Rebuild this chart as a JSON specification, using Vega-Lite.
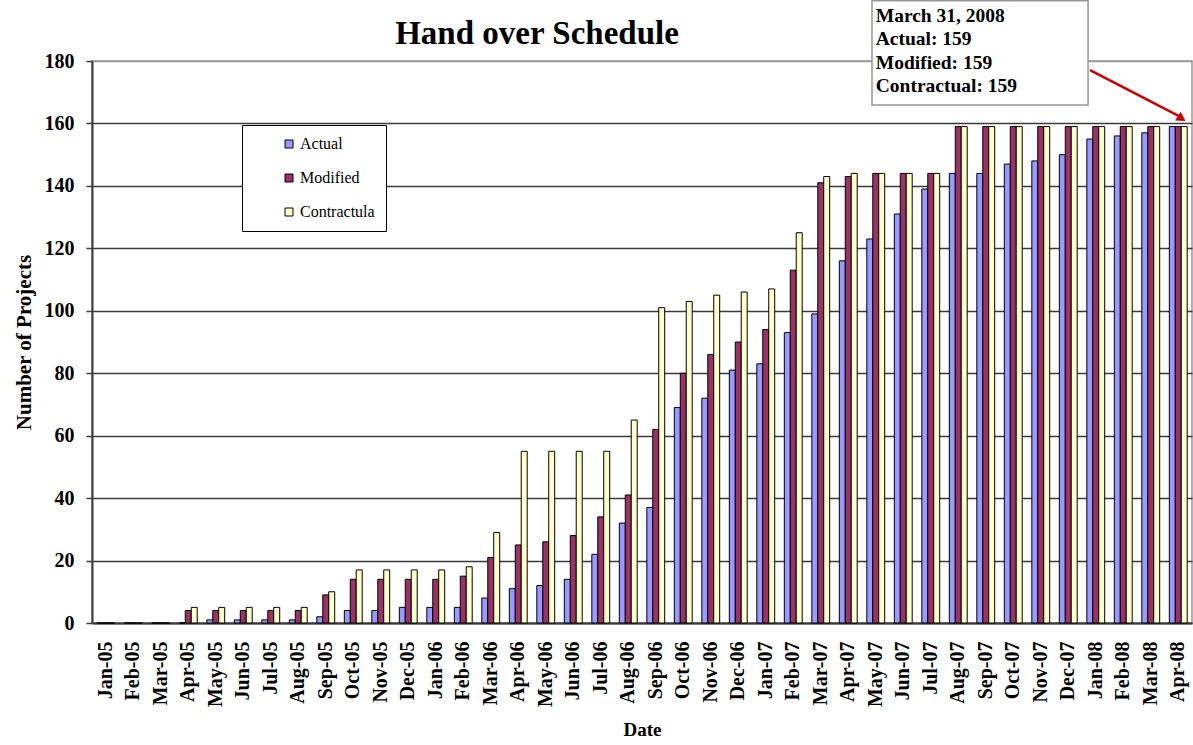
{
  "$schema": "https://vega.github.io/schema/vega-lite/v6.json",
  "width": 1100,
  "height": 562,
  "autosize": {"type": "none"},
  "padding": {"left": 92, "top": 61, "right": 1, "bottom": 122},
  "background": "white",
  "title": {"text": "Hand over Schedule", "font": "Liberation Serif", "fontSize": 33, "fontWeight": "bold", "color": "black", "anchor": "middle", "dx": -105, "dy": 61, "offset": 10},
  "config": {
    "view": {"stroke": "#999999", "strokeWidth": 1.5},
    "axis": {"labelFont": "Liberation Serif", "titleFont": "Liberation Serif", "labelColor": "black", "titleColor": "black", "labelFontWeight": "bold", "titleFontWeight": "bold", "domainColor": "#3a3a3a", "domainWidth": 2},
    "legend": {"labelFont": "Liberation Serif", "titleFont": "Liberation Serif"}
  },
  "layer": [
    {
      "data": {"values": [
        {"month": "Jan-05", "series": "Actual", "value": 0}, {"month": "Jan-05", "series": "Modified", "value": 0}, {"month": "Jan-05", "series": "Contractula", "value": 0},
        {"month": "Feb-05", "series": "Actual", "value": 0}, {"month": "Feb-05", "series": "Modified", "value": 0}, {"month": "Feb-05", "series": "Contractula", "value": 0},
        {"month": "Mar-05", "series": "Actual", "value": 0}, {"month": "Mar-05", "series": "Modified", "value": 0}, {"month": "Mar-05", "series": "Contractula", "value": 0},
        {"month": "Apr-05", "series": "Actual", "value": 0}, {"month": "Apr-05", "series": "Modified", "value": 4}, {"month": "Apr-05", "series": "Contractula", "value": 5},
        {"month": "May-05", "series": "Actual", "value": 1}, {"month": "May-05", "series": "Modified", "value": 4}, {"month": "May-05", "series": "Contractula", "value": 5},
        {"month": "Jun-05", "series": "Actual", "value": 1}, {"month": "Jun-05", "series": "Modified", "value": 4}, {"month": "Jun-05", "series": "Contractula", "value": 5},
        {"month": "Jul-05", "series": "Actual", "value": 1}, {"month": "Jul-05", "series": "Modified", "value": 4}, {"month": "Jul-05", "series": "Contractula", "value": 5},
        {"month": "Aug-05", "series": "Actual", "value": 1}, {"month": "Aug-05", "series": "Modified", "value": 4}, {"month": "Aug-05", "series": "Contractula", "value": 5},
        {"month": "Sep-05", "series": "Actual", "value": 2}, {"month": "Sep-05", "series": "Modified", "value": 9}, {"month": "Sep-05", "series": "Contractula", "value": 10},
        {"month": "Oct-05", "series": "Actual", "value": 4}, {"month": "Oct-05", "series": "Modified", "value": 14}, {"month": "Oct-05", "series": "Contractula", "value": 17},
        {"month": "Nov-05", "series": "Actual", "value": 4}, {"month": "Nov-05", "series": "Modified", "value": 14}, {"month": "Nov-05", "series": "Contractula", "value": 17},
        {"month": "Dec-05", "series": "Actual", "value": 5}, {"month": "Dec-05", "series": "Modified", "value": 14}, {"month": "Dec-05", "series": "Contractula", "value": 17},
        {"month": "Jan-06", "series": "Actual", "value": 5}, {"month": "Jan-06", "series": "Modified", "value": 14}, {"month": "Jan-06", "series": "Contractula", "value": 17},
        {"month": "Feb-06", "series": "Actual", "value": 5}, {"month": "Feb-06", "series": "Modified", "value": 15}, {"month": "Feb-06", "series": "Contractula", "value": 18},
        {"month": "Mar-06", "series": "Actual", "value": 8}, {"month": "Mar-06", "series": "Modified", "value": 21}, {"month": "Mar-06", "series": "Contractula", "value": 29},
        {"month": "Apr-06", "series": "Actual", "value": 11}, {"month": "Apr-06", "series": "Modified", "value": 25}, {"month": "Apr-06", "series": "Contractula", "value": 55},
        {"month": "May-06", "series": "Actual", "value": 12}, {"month": "May-06", "series": "Modified", "value": 26}, {"month": "May-06", "series": "Contractula", "value": 55},
        {"month": "Jun-06", "series": "Actual", "value": 14}, {"month": "Jun-06", "series": "Modified", "value": 28}, {"month": "Jun-06", "series": "Contractula", "value": 55},
        {"month": "Jul-06", "series": "Actual", "value": 22}, {"month": "Jul-06", "series": "Modified", "value": 34}, {"month": "Jul-06", "series": "Contractula", "value": 55},
        {"month": "Aug-06", "series": "Actual", "value": 32}, {"month": "Aug-06", "series": "Modified", "value": 41}, {"month": "Aug-06", "series": "Contractula", "value": 65},
        {"month": "Sep-06", "series": "Actual", "value": 37}, {"month": "Sep-06", "series": "Modified", "value": 62}, {"month": "Sep-06", "series": "Contractula", "value": 101},
        {"month": "Oct-06", "series": "Actual", "value": 69}, {"month": "Oct-06", "series": "Modified", "value": 80}, {"month": "Oct-06", "series": "Contractula", "value": 103},
        {"month": "Nov-06", "series": "Actual", "value": 72}, {"month": "Nov-06", "series": "Modified", "value": 86}, {"month": "Nov-06", "series": "Contractula", "value": 105},
        {"month": "Dec-06", "series": "Actual", "value": 81}, {"month": "Dec-06", "series": "Modified", "value": 90}, {"month": "Dec-06", "series": "Contractula", "value": 106},
        {"month": "Jan-07", "series": "Actual", "value": 83}, {"month": "Jan-07", "series": "Modified", "value": 94}, {"month": "Jan-07", "series": "Contractula", "value": 107},
        {"month": "Feb-07", "series": "Actual", "value": 93}, {"month": "Feb-07", "series": "Modified", "value": 113}, {"month": "Feb-07", "series": "Contractula", "value": 125},
        {"month": "Mar-07", "series": "Actual", "value": 99}, {"month": "Mar-07", "series": "Modified", "value": 141}, {"month": "Mar-07", "series": "Contractula", "value": 143},
        {"month": "Apr-07", "series": "Actual", "value": 116}, {"month": "Apr-07", "series": "Modified", "value": 143}, {"month": "Apr-07", "series": "Contractula", "value": 144},
        {"month": "May-07", "series": "Actual", "value": 123}, {"month": "May-07", "series": "Modified", "value": 144}, {"month": "May-07", "series": "Contractula", "value": 144},
        {"month": "Jun-07", "series": "Actual", "value": 131}, {"month": "Jun-07", "series": "Modified", "value": 144}, {"month": "Jun-07", "series": "Contractula", "value": 144},
        {"month": "Jul-07", "series": "Actual", "value": 139}, {"month": "Jul-07", "series": "Modified", "value": 144}, {"month": "Jul-07", "series": "Contractula", "value": 144},
        {"month": "Aug-07", "series": "Actual", "value": 144}, {"month": "Aug-07", "series": "Modified", "value": 159}, {"month": "Aug-07", "series": "Contractula", "value": 159},
        {"month": "Sep-07", "series": "Actual", "value": 144}, {"month": "Sep-07", "series": "Modified", "value": 159}, {"month": "Sep-07", "series": "Contractula", "value": 159},
        {"month": "Oct-07", "series": "Actual", "value": 147}, {"month": "Oct-07", "series": "Modified", "value": 159}, {"month": "Oct-07", "series": "Contractula", "value": 159},
        {"month": "Nov-07", "series": "Actual", "value": 148}, {"month": "Nov-07", "series": "Modified", "value": 159}, {"month": "Nov-07", "series": "Contractula", "value": 159},
        {"month": "Dec-07", "series": "Actual", "value": 150}, {"month": "Dec-07", "series": "Modified", "value": 159}, {"month": "Dec-07", "series": "Contractula", "value": 159},
        {"month": "Jan-08", "series": "Actual", "value": 155}, {"month": "Jan-08", "series": "Modified", "value": 159}, {"month": "Jan-08", "series": "Contractula", "value": 159},
        {"month": "Feb-08", "series": "Actual", "value": 156}, {"month": "Feb-08", "series": "Modified", "value": 159}, {"month": "Feb-08", "series": "Contractula", "value": 159},
        {"month": "Mar-08", "series": "Actual", "value": 157}, {"month": "Mar-08", "series": "Modified", "value": 159}, {"month": "Mar-08", "series": "Contractula", "value": 159},
        {"month": "Apr-08", "series": "Actual", "value": 159}, {"month": "Apr-08", "series": "Modified", "value": 159}, {"month": "Apr-08", "series": "Contractula", "value": 159}
      ]},
      "mark": {"type": "bar", "stroke": "black", "strokeWidth": 1},
      "encoding": {
        "x": {
          "field": "month", "type": "nominal",
          "scale": {"domain": ["Jan-05","Feb-05","Mar-05","Apr-05","May-05","Jun-05","Jul-05","Aug-05","Sep-05","Oct-05","Nov-05","Dec-05","Jan-06","Feb-06","Mar-06","Apr-06","May-06","Jun-06","Jul-06","Aug-06","Sep-06","Oct-06","Nov-06","Dec-06","Jan-07","Feb-07","Mar-07","Apr-07","May-07","Jun-07","Jul-07","Aug-07","Sep-07","Oct-07","Nov-07","Dec-07","Jan-08","Feb-08","Mar-08","Apr-08"], "paddingInner": 0.35, "paddingOuter": 0.175},
          "axis": {"title": "Date", "titleFontSize": 19, "titlePadding": 14, "labelAngle": -90, "labelAlign": "right", "labelBaseline": "middle", "labelFontSize": 20, "labelPadding": 18, "ticks": false}
        },
        "xOffset": {"field": "series", "type": "nominal", "sort": ["Actual", "Modified", "Contractula"]},
        "y": {
          "field": "value", "type": "quantitative",
          "scale": {"domain": [0, 180], "nice": false},
          "axis": {"title": "Number of Projects", "titleFontSize": 21, "titlePadding": 10, "values": [0,20,40,60,80,100,120,140,160,180], "labelFontSize": 20, "labelPadding": 12, "tickSize": 6, "tickWidth": 1.5, "tickColor": "#3a3a3a", "grid": true, "gridWidth": 1.5, "gridColor": {"condition": {"test": "datum.value == 180", "value": "#999999"}, "value": "#3a3a3a"}}
        },
        "color": {
          "field": "series", "type": "nominal",
          "scale": {"domain": ["Actual", "Modified", "Contractula"], "range": ["#9999FF", "#993366", "#FFFFCC"]},
          "legend": {"title": null, "orient": "none", "legendX": 150, "legendY": 64, "direction": "vertical", "fillColor": "white", "strokeColor": "black", "padding": 11, "rowPadding": 18, "symbolType": "square", "symbolSize": 64, "symbolStrokeColor": "black", "symbolStrokeWidth": 1, "symbolOffset": 28, "labelFont": "Liberation Serif", "labelFontSize": 16, "labelColor": "black", "labelOffset": 3}
        }
      }
    },
    {
      "data": {"values": [{"note": "box"}]},
      "mark": {"type": "rect", "fill": "white", "stroke": "#999999", "strokeWidth": 1.5, "clip": false},
      "encoding": {
        "x": {"datum": "May-07", "bandPosition": 0.29},
        "x2": {"datum": "Jan-08", "bandPosition": 0.07},
        "y": {"datum": 199.3},
        "y2": {"datum": 165.9}
      }
    },
    {
      "data": {"values": [{"note": "text"}]},
      "mark": {"type": "text", "align": "left", "baseline": "top", "font": "Liberation Serif", "fontSize": 19.5, "fontWeight": "bold", "color": "black", "lineHeight": 23.5, "clip": false, "text": ["March 31, 2008", "Actual: 159", "Modified: 159", "Contractual: 159"]},
      "encoding": {
        "x": {"datum": "May-07", "bandPosition": 0.5},
        "y": {"datum": 197.4}
      }
    },
    {
      "data": {"values": [{"note": "arrow"}]},
      "mark": {"type": "rule", "color": "#CC0000", "strokeWidth": 2.5, "clip": false},
      "encoding": {
        "x": {"datum": "Jan-08", "bandPosition": 0.18},
        "x2": {"datum": "Apr-08", "bandPosition": 0.6},
        "y": {"datum": 177.1},
        "y2": {"datum": 162.2}
      }
    },
    {
      "data": {"values": [{"note": "arrowhead"}]},
      "mark": {"type": "point", "shape": "triangle", "angle": 123, "size": 110, "filled": true, "color": "#CC0000", "opacity": 1, "clip": false},
      "encoding": {
        "x": {"datum": "Apr-08", "bandPosition": 0.62},
        "y": {"datum": 161.8}
      }
    }
  ]
}
